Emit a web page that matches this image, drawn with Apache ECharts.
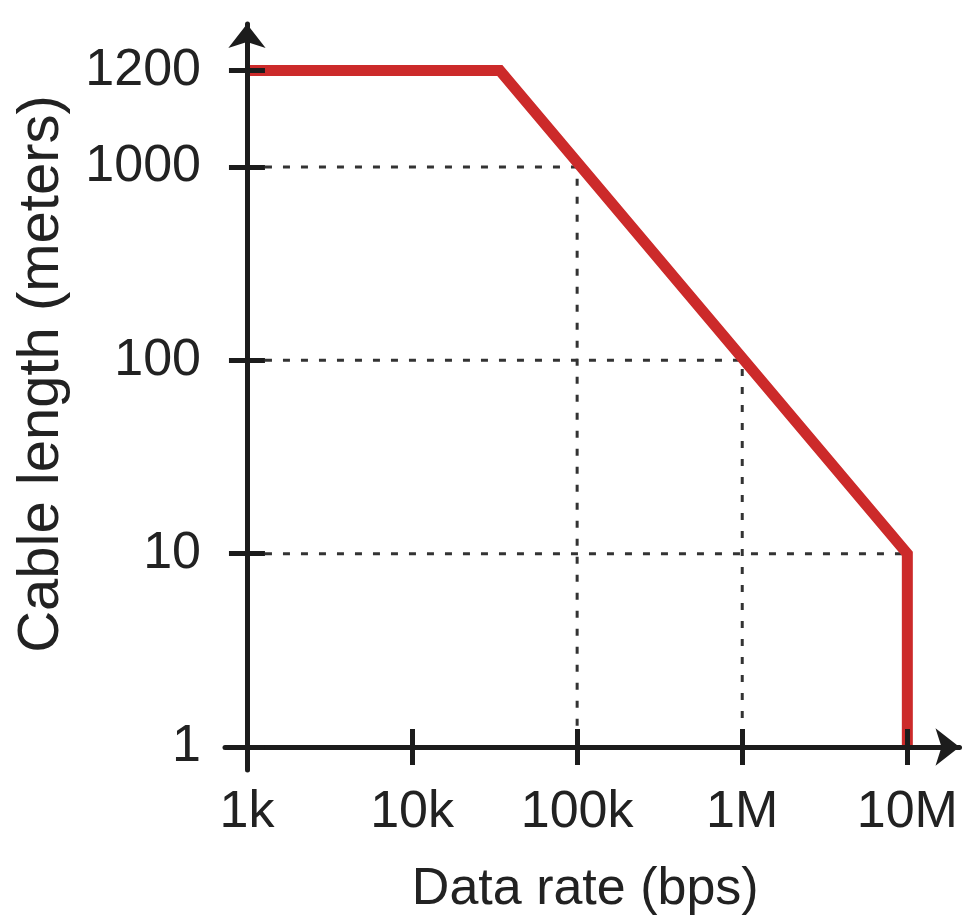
<!DOCTYPE html>
<html>
<head>
<meta charset="utf-8">
<script src="https://cdn.jsdelivr.net/npm/echarts@6/dist/echarts.min.js"></script>
<style>
  html, body { margin: 0; padding: 0; background: #fff; }
  #chart { width: 971px; height: 915px; }
</style>
</head>
<body>
<div id="chart"></div>
<script>
// ---- data ----
const rateTicks = [1e3, 1e4, 1e5, 1e6, 1e7];
const rateLabels = ['1k', '10k', '100k', '1M', '10M'];
const lengthTicks = [1, 10, 100, 1000, 1200];
const lengthLabels = ['1', '10', '100', '1000', '1200'];

// max cable length vs data rate
const rates = [1000, 34000, 10000000, 10000000];
const lengths = [1200, 1200, 10, 1];

// dotted guide lines
const guideRates = [[1e3, 1e5, 1e5], [1e3, 1e6, 1e6], [1e3, 1e7]];
const guideLengths = [[1000, 1000, 1], [100, 100, 1], [10, 10]];

// ---- scales (log scale, with a broken top segment for 1200) ----
const xPos = r => Math.log10(r / 1000);
const yPos = v => (v <= 1000 ? Math.log10(v) : 3 + (v - 1000) / 400);

const xTickPos = rateTicks.map(xPos);
const yTickPos = lengthTicks.map(yPos);
const findLabel = (posArr, labels, val) => {
  const i = posArr.findIndex(p => Math.abs(p - val) < 1e-6);
  return i >= 0 ? labels[i] : '';
};

const FONT = "'Liberation Sans', Arial, sans-serif";
const AX = '#1c1c1c';
const TXT = '#222';

const chart = echarts.init(document.getElementById('chart'), null, { renderer: 'canvas' });

const baseX = {
  type: 'value', min: -0.133, max: 4.316, z: 5,
  splitLine: { show: false },
  axisLine: { onZero: true, lineStyle: { color: AX, width: 5 } },
  axisTick: { show: true, customValues: xTickPos, length: 18, lineStyle: { color: AX, width: 5 } }
};
const baseY = {
  type: 'value', min: -0.119, max: 3.74, z: 5,
  splitLine: { show: false },
  axisLine: { onZero: true, lineStyle: { color: AX, width: 5 } },
  axisTick: { show: true, customValues: yTickPos, length: 18, lineStyle: { color: AX, width: 5 } }
};

const option = {
  animation: false,
  backgroundColor: '#fff',
  grid: { left: 225, right: 11.5, top: 24, bottom: 145, containLabel: false, outerBoundsMode: 'none' },
  xAxis: [
    Object.assign({}, baseX, {
      position: 'bottom',
      axisLine: { onZero: true, symbol: ['none', 'arrow'], symbolSize: [28, 24], lineStyle: { color: AX, width: 5 } },
      axisTick: { show: true, customValues: xTickPos, length: 18, inside: false, lineStyle: { color: AX, width: 5 } },
      axisLabel: {
        show: true, customValues: xTickPos, margin: 17,
        fontFamily: FONT, fontSize: 52, color: TXT,
        formatter: v => findLabel(xTickPos, rateLabels, v)
      },
      name: 'Data rate (bps)', nameLocation: 'middle', nameGap: 94,
      nameTextStyle: { fontFamily: FONT, fontSize: 52, color: TXT, padding: [0, 14, 0, 0] }
    }),
    Object.assign({}, baseX, {
      position: 'bottom',
      axisLine: { show: false, onZero: true },
      axisTick: { show: true, customValues: xTickPos, length: 18, inside: true, lineStyle: { color: AX, width: 5 } },
      axisLabel: { show: false }
    })
  ],
  yAxis: [
    Object.assign({}, baseY, {
      position: 'left',
      axisLine: { onZero: true, symbol: ['none', 'arrow'], symbolSize: [28, 24], lineStyle: { color: AX, width: 5 } },
      axisTick: { show: true, customValues: yTickPos, length: 18, inside: false, lineStyle: { color: AX, width: 5 } },
      axisLabel: {
        show: true, customValues: yTickPos, margin: 24,
        fontFamily: FONT, fontSize: 52, color: TXT,
        formatter: v => findLabel(yTickPos, lengthLabels, v)
      },
      name: 'Cable length (meters)', nameLocation: 'middle', nameGap: 154, nameRotate: 90,
      nameTextStyle: { fontFamily: FONT, fontSize: 58, color: TXT, padding: [0, 0, 0, 46] }
    }),
    Object.assign({}, baseY, {
      position: 'left',
      axisLine: { show: false, onZero: true },
      axisTick: { show: true, customValues: yTickPos, length: 18, inside: true, lineStyle: { color: AX, width: 5 } },
      axisLabel: { show: false }
    })
  ],
  series: guideRates.map((gr, k) => ({
    type: 'line',
    xAxisIndex: 0, yAxisIndex: 0,
    data: gr.map((r, i) => [xPos(r), yPos(guideLengths[k][i])]),
    symbol: 'none', silent: true, z: 1,
    lineStyle: { color: '#333', width: 3, type: [7, 11] }
  })).concat([{
    type: 'line',
    xAxisIndex: 0, yAxisIndex: 0,
    data: rates.map((r, i) => [xPos(r), yPos(lengths[i])]),
    symbol: 'none', z: 3,
    lineStyle: { color: '#cc2a2a', width: 11, join: 'miter', cap: 'butt' }
  }])
};

chart.setOption(option);
</script>
</body>
</html>
